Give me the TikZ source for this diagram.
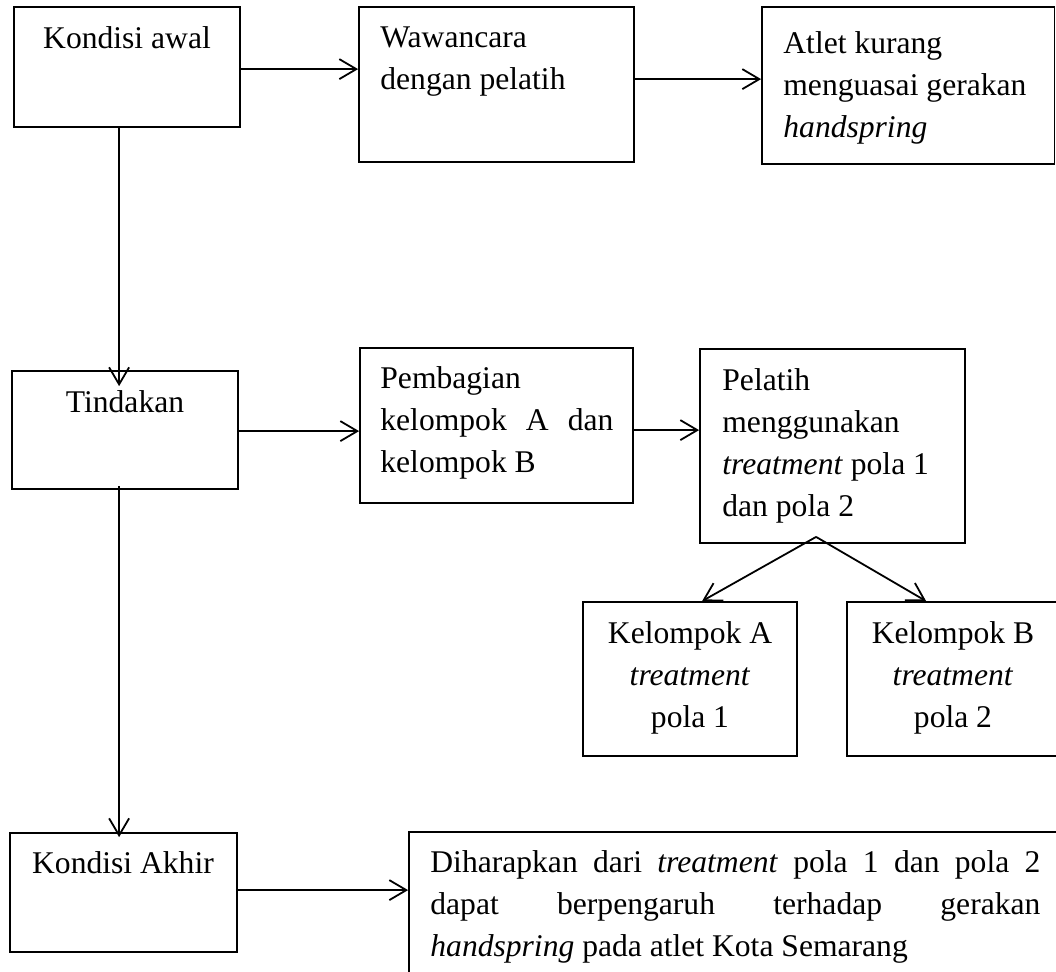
\documentclass[tikz,border=0pt]{standalone}
\usepackage{fontspec}
\setmainfont{Liberation Serif}
\usetikzlibrary{arrows.meta,calc,fit}
\begin{document}
\begin{tikzpicture}[x=0.5pt,y=-0.5pt,
  box/.style={draw, line width=0.9pt, inner sep=0pt},
  txt/.style={inner sep=0pt, font=\fontsize{15.8pt}{21pt}\selectfont},
  arr/.style={line width=0.9pt, -{Straight Barb[length=8.5pt,width=10pt,line width=0.9pt]}},
  ln/.style={line width=0.9pt}]
\useasboundingbox (0,0) rectangle (1056,971);

% boxes
\node[box, fit={(14,7) (240,127)}] (b1) {};
\node[box, fit={(359,7) (634,162)}] (b2) {};
\node[box, fit={(762,7) (1054.5,164)}] (b3) {};
\node[box, fit={(12,371) (238,489)}] (T) {};
\node[box, fit={(360,348) (633,503)}] (P) {};
\node[box, fit={(700,349) (965,543)}] (Q) {};
\node[box, fit={(583,602) (797,756)}] (KA) {};
\node[box, fit={(847,602) (1062,756)}] (KB) {};
\node[box, fit={(10,833) (237,952)}] (KK) {};
\node[box, fit={(409,832) (1090,1010)}] (F) {};

% texts
\node[txt, anchor=base] (t1) at (127,48) {Kondisi awal};
\node[txt, anchor=base west] (t2) at (380,47) {\vtop{\hbox{Wawancara}\hbox{dengan pelatih}}};
\node[txt, anchor=base west] (t3) at (783,53) {\vtop{\hbox{Atlet kurang}\hbox{menguasai gerakan}\hbox{\textit{handspring}}}};
\node[txt, anchor=base] (tT) at (125,412) {Tindakan};
\node[txt, anchor=base west] (tP) at (380,388) {\vtop{\hbox{Pembagian}\hbox to 116.5pt{kelompok\hfill A\hfill dan}\hbox{kelompok B}}};
\node[txt, anchor=base west] (tQ) at (722,390) {\vtop{\hbox{Pelatih}\hbox{menggunakan}\hbox{\textit{treatment} pola 1}\hbox{dan pola 2}}};
\node[txt, anchor=base] (tKA) at (690,643) {\vtop{\hbox to 100pt{\hfil Kelompok A\hfil}\hbox to 100pt{\hfil\textit{treatment}\hfil}\hbox to 100pt{\hfil pola 1\hfil}}};
\node[txt, anchor=base] (tKB) at (953,643) {\vtop{\hbox to 100pt{\hfil Kelompok B\hfil}\hbox to 100pt{\hfil\textit{treatment}\hfil}\hbox to 100pt{\hfil pola 2\hfil}}};
\node[txt, anchor=base] (tKK) at (123,873) {Kondisi Akhir};
\node[txt, anchor=base west] (tF) at (430,872) {\vtop{\hbox to 305pt{Diharapkan\hfill dari\hfill \textit{treatment}\hfill pola\hfill 1\hfill dan\hfill pola\hfill 2}\hbox to 305pt{dapat\hfill berpengaruh\hfill terhadap\hfill gerakan}\hbox{\textit{handspring} pada atlet Kota Semarang}}};

% connectors
\draw[arr] ($(b1.north east)+(0,63)$) -- ($(b2.north west)+(0,63)$);
\draw[arr] ($(b2.north east)+(0,73)$) -- ($(b3.north west)+(0,73)$);
\draw[arr] ($(b1.south west)+(106,0)$) -- ($(T.north west)+(108,16)$);
\draw[arr] ($(T.north east)+(0,61)$) -- ($(P.north west)+(0,84)$);
\draw[arr] ($(P.north east)+(0,83)$) -- ($(Q.north west)+(0,82)$);
\coordinate (apex) at ($(Q.south west)+(117,-7)$);
\draw[arr] (apex) -- ($(KA.north west)+(120,0)$);
\draw[arr] (apex) -- ($(KB.north west)+(80,0)$);
\draw[arr] ($(T.south west)+(108,-4)$) -- ($(KK.north west)+(110,5)$);
\draw[arr] ($(KK.north east)+(-2,58)$) -- ($(F.north west)+(0,59)$);
\end{tikzpicture}
\end{document}
